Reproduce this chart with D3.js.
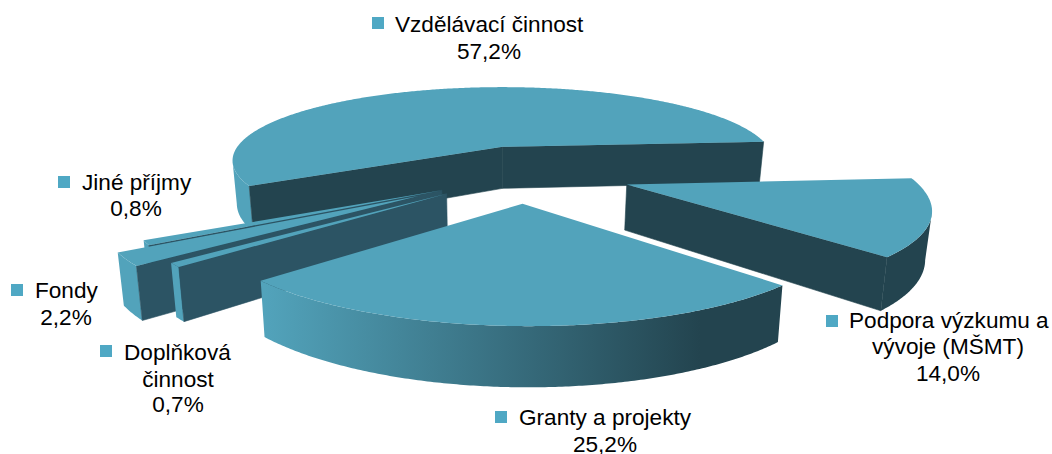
<!DOCTYPE html>
<html lang="cs">
<head>
<meta charset="utf-8">
<script src="https://cdn.jsdelivr.net/npm/d3@7"></script>
<style>
html,body{margin:0;padding:0;background:#fff;}
svg{display:block;}
text{font-family:"Liberation Sans",Arial,sans-serif;font-size:22.6px;fill:#000;}
</style>
</head>
<body>
<svg id="chart" width="1052" height="454"></svg>
<script>
const categories = ["Vzdělávací činnost","Podpora výzkumu a vývoje (MŠMT)","Granty a projekty","Doplňková činnost","Fondy","Jiné příjmy"];
const values = [57.2,14.0,25.2,0.7,2.2,0.8];
const valueLabels = ["57,2%","14,0%","25,2%","0,7%","2,2%","0,8%"];
const labelLines = [["Vzdělávací činnost"],["Podpora výzkumu a","vývoje (MŠMT)"],["Granty a projekty"],["Doplňková","činnost"],["Fondy"],["Jiné příjmy"]];

// layout of the exploded perspective pie
const explode = [.38,.34,.31,.38,.465,.356];
const nudgeX = [.012,0,-.03,-.004,-.006,0];
const nudgeF = [0,-.01,.012,-.04,-.04,-.01];
const radius = [.985,.985,1,1,1,1];
const wallColors = ["#23444f","#23444f","#23444f","#2c5464","#2c5464","#2c5464"];
const paintOrder = [0,5,4,3,1,2];
const labelPos = [
  {sq:[372,17],x:395,cx:489,y:[32,59]},
  {sq:[826,315],x:849,cx:948,y:[328,354,381]},
  {sq:[495,411],x:519,cx:605,y:[425,452]},
  {sq:[100,345],x:124,cx:178,y:[360,387,412]},
  {sq:[11,284],x:35,cx:66,y:[298,325]},
  {sq:[58,176],x:82,cx:136,y:[190,216]}
];
const TOP="#52a3bb", LEGEND="#4fa8c4";
const CX=500, HORIZON=230, XS=.715, G=1970, W0=405, OX=.11, DEPTH=.11, SHRINK=.984;
const CAMF=G/W0;

function proj(X,F,bottom){
  const w=1/(1/W0-F/G);
  const s=XS*w;
  return bottom ? [CX+X*s*SHRINK, w*(1+DEPTH)-HORIZON] : [CX+X*s, w-HORIZON];
}
const line=d3.line();
const svg=d3.select("#chart");
const defs=svg.append("defs");
const grad=defs.append("linearGradient").attr("id","side").attr("gradientUnits","userSpaceOnUse")
  .attr("x1",265).attr("x2",700).attr("y1",0).attr("y2",0);
grad.append("stop").attr("offset",0).attr("stop-color","#52a3bb");
grad.append("stop").attr("offset",1).attr("stop-color","#23444f");

const deg=Math.PI/180;
const pie=d3.pie().sort(null).startAngle(240*deg).endAngle(600*deg);
const arcs=pie(values);

function facing(px,pf,nx,nf){ return (0-px)*nx+(CAMF-pf)*nf>0; }

const gPie=svg.append("g");
paintOrder.forEach(i=>{
  const a=arcs[i];
  const mid=(a.startAngle+a.endAngle)/2;
  const ax=OX+explode[i]*Math.sin(mid)+nudgeX[i], af=-explode[i]*Math.cos(mid)+nudgeF[i];
  const R=radius[i];
  const thetas=d3.range(a.startAngle,a.endAngle,deg/2).concat([a.endAngle]);
  const pt=t=>[ax+R*Math.sin(t),af-R*Math.cos(t)];
  const g=gPie.append("g").attr("class","slice");
  let run=[];
  const flush=()=>{
    if(run.length>1){
      const up=run.map(p=>proj(p[0],p[1],false));
      const dn=run.map(p=>proj(p[0],p[1],true)).reverse();
      g.append("path").attr("d",line(up.concat(dn))+"Z").attr("fill","url(#side)");
    }
    run=[];
  };
  thetas.forEach(t=>{
    const p=pt(t);
    if(facing(p[0],p[1],Math.sin(t),-Math.cos(t))) run.push(p); else flush();
  });
  flush();
  [[a.startAngle,a.startAngle-Math.PI/2],[a.endAngle,a.endAngle+Math.PI/2]].forEach(([t,n])=>{
    const p=pt(t);
    if(facing((p[0]+ax)/2,(p[1]+af)/2,Math.sin(n),-Math.cos(n))){
      const q=[proj(ax,af,false),proj(p[0],p[1],false),proj(p[0],p[1],true),proj(ax,af,true)];
      g.append("path").attr("d",line(q)+"Z").attr("fill",wallColors[i])
        .attr("stroke",wallColors[i]).attr("stroke-width",.6);
    }
  });
  const topPts=[proj(ax,af,false)].concat(thetas.map(t=>{const p=pt(t);return proj(p[0],p[1],false);}));
  g.append("path").attr("d",line(topPts)+"Z").attr("fill",TOP);
});

const gLab=svg.append("g");
categories.forEach((c,i)=>{
  const L=labelPos[i];
  gLab.append("rect").attr("x",L.sq[0]).attr("y",L.sq[1]).attr("width",12).attr("height",12).attr("fill",LEGEND);
  labelLines[i].forEach((s,k)=>{
    const t=gLab.append("text").attr("y",L.y[k]).text(s);
    if(k===0) t.attr("x",L.x); else t.attr("x",L.cx).attr("text-anchor","middle");
  });
  gLab.append("text").attr("x",L.cx).attr("y",L.y[labelLines[i].length]).attr("text-anchor","middle").text(valueLabels[i]);
});
</script>
</body>
</html>
